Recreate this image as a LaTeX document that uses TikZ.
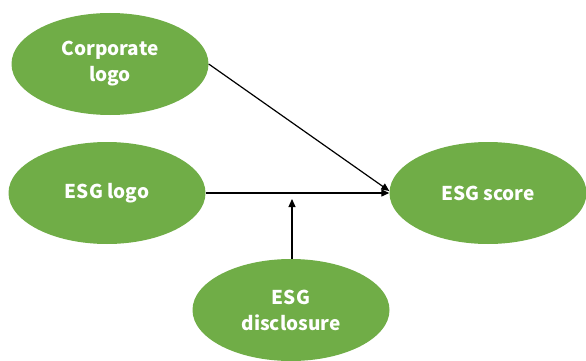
\documentclass[tikz,border=0pt]{standalone}
\usepackage{fontspec}
\setmainfont{Noto Sans CJK KR}
\usetikzlibrary{arrows.meta,shapes.geometric}
\definecolor{ogreen}{RGB}{112,173,71}
\begin{document}
\begin{tikzpicture}[x={(1pt,0)},y={(0,-1pt)},
  oval/.style={ellipse,fill=ogreen,minimum width=197pt,minimum height=102pt,inner sep=0pt,
    text=white,font=\bfseries\fontsize{19}{26}\selectfont,align=center},
  conn/.style={line width=1.2pt,-{Triangle[length=8pt,width=7pt]}}]
\useasboundingbox (0,0) rectangle (586,361);
\node[oval] (corp) at (110,64) {Corporate\\logo};
\node[oval] (logo) at (107,193) {ESG logo};
\node[oval] (score) at (488,193) {ESG score};
\node[oval] (disc) at (291,310) {ESG\\disclosure};
\coordinate (tip) at (292,199);
\coordinate (dend) at ([yshift=2pt]score.west);
\draw[conn] (logo.east) -- (score.west);
\draw[conn] (corp.east) -- (dend);
\draw[conn] (disc.north -| tip) -- (tip);
\end{tikzpicture}
\end{document}
